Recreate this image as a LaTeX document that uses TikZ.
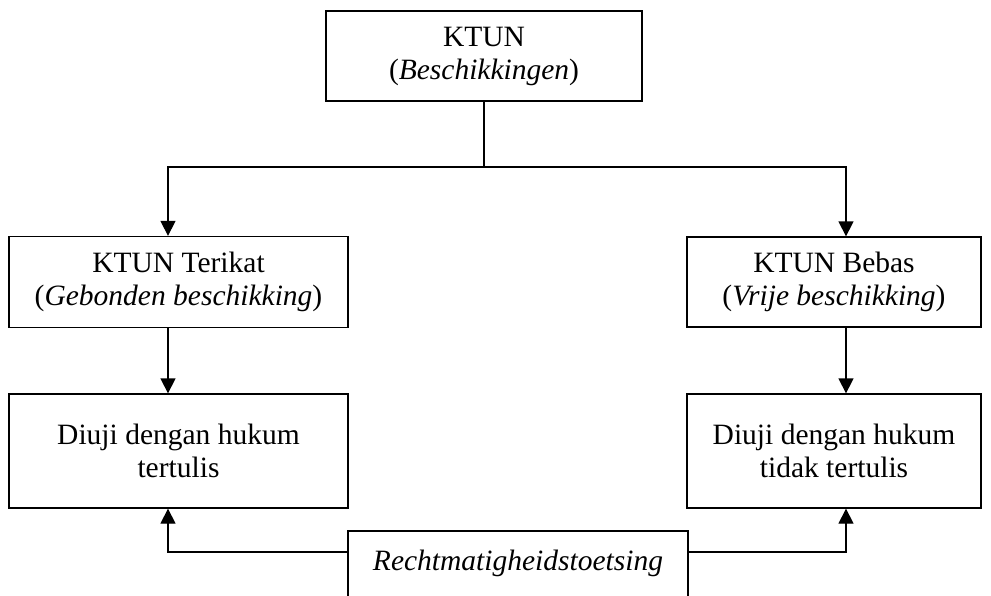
\documentclass[tikz,border=0pt]{standalone}
\usepackage{fontspec}
\setmainfont{Liberation Serif}
\usetikzlibrary{arrows.meta}
\begin{document}
\begin{tikzpicture}[x=1pt,y=-1pt,
  lbl/.style={font=\fontsize{29.5}{33}\selectfont},
  box/.style={draw,line width=1.3pt,rectangle,inner sep=0pt,align=center,lbl},
  conn/.style={line width=1.3pt},
  arr/.style={conn,-{Triangle[width=15pt,length=15pt]}}]
\useasboundingbox (0,0) rectangle (991,595);
\clip (0,0) rectangle (991,595);
\node[box,minimum width=316,minimum height=90] (top) at (484,56) {KTUN\\(\textit{Beschikkingen})};
\node[box,minimum width=339,minimum height=91] (lt) at (178.5,282) {KTUN Terikat\\(\textit{Gebonden beschikking})};
\node[box,minimum width=294,minimum height=90] (rt) at (834,282) {KTUN Bebas\\(\textit{Vrije beschikking})};
\node[box,minimum width=339,minimum height=114] (lb) at (178.5,451) {Diuji dengan hukum\\tertulis};
\node[box,minimum width=294,minimum height=114] (rb) at (834,451) {Diuji dengan hukum\\tidak tertulis};
\node[box,minimum width=340,minimum height=110] (recht) at (518,586) {};
\node[anchor=base,inner sep=0pt,lbl] (rechttext) at (518,570) {\textit{Rechtmatigheidstoetsing}};
\coordinate (junc) at (484,167);
\draw[conn] (top.south) -- (junc);
\draw[arr] (junc) -| ([xshift=-10.5pt]lt.north);
\draw[arr] (junc) -| ([xshift=12pt]rt.north);
\draw[arr] ([xshift=-10.5pt]lt.south) -- ([xshift=-10.5pt]lb.north);
\draw[arr] ([xshift=12pt]rt.south) -- ([xshift=12pt]rb.north);
\draw[arr] (recht.west |- 0,552) -| ([xshift=-10.5pt]lb.south);
\draw[arr] (recht.east |- 0,552) -| ([xshift=12pt]rb.south);
\end{tikzpicture}
\end{document}
